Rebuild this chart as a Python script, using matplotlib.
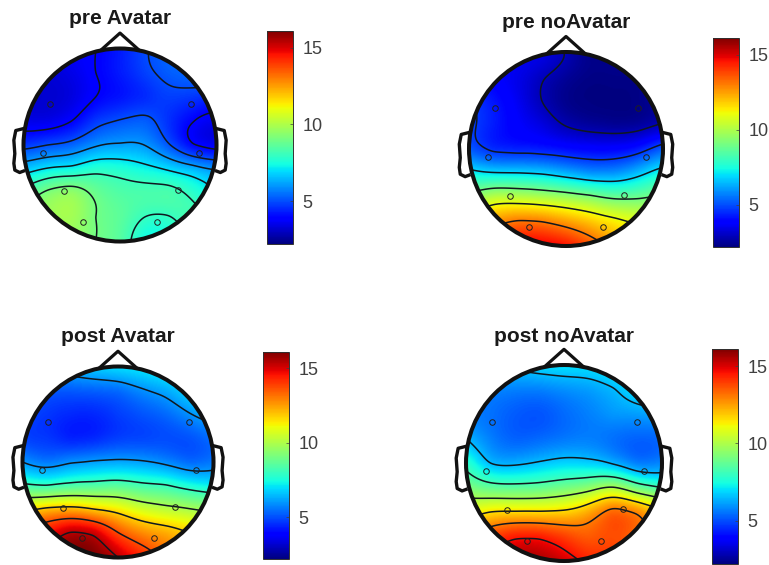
""" Four scalp maps (pre/post, Avatar/noAvatar) with their colorbars. """

import matplotlib.pyplot as plt
import numpy as np
from matplotlib.cm import ScalarMappable
from matplotlib.colors import Normalize
from matplotlib.patches import Circle

plt.rcParams['font.family'] = ['Liberation Sans', 'DejaVu Sans']

VMIN, VMAX = 2.2, 16.1
CBAR_TICKS = [5, 10, 15]

# values read on a 9x9 grid over the head, top row = front of the head
GRID_AXIS = [-1, -.75, -.5, -.25, 0, .25, .5, .75, 1]

pre_avatar = [
    [3.6, 3.6, 3.7, 3.9, 4.3, 4.9, 5.3, 5.5, 5.6],
    [3.3, 3.3, 3.5, 3.9, 4.3, 4.8, 5.2, 5.4, 5.5],
    [3.2, 3.2, 3.4, 3.9, 4.2, 4.5, 4.8, 4.7, 4.5],
    [3.5, 3.5, 3.9, 4.7, 5.05, 5.2, 4.6, 3.95, 3.6],
    [4.7, 5.0, 5.3, 5.9, 6.1, 6.0, 5.1, 4.0, 3.6],
    [6.6, 7.1, 7.3, 7.7, 7.6, 7.3, 6.9, 6.4, 5.9],
    [8.4, 9.2, 9.5, 8.8, 8.4, 8.3, 8.3, 7.8, 7.0],
    [9.5, 9.7, 9.8, 9.0, 8.6, 8.0, 7.95, 8.2, 7.6],
    [9.5, 9.6, 9.6, 9.0, 8.5, 7.4, 7.4, 8.0, 7.6],
]
pre_noavatar = [
    [3.6, 3.6, 3.5, 3.4, 2.85, 2.3, 2.3, 2.4, 2.4],
    [4.0, 3.8, 3.5, 3.0, 2.55, 2.3, 2.3, 2.35, 2.5],
    [4.7, 4.2, 3.6, 2.9, 2.4, 2.25, 2.25, 2.3, 2.6],
    [4.9, 4.3, 3.8, 3.4, 2.85, 2.6, 2.5, 2.6, 3.0],
    [5.2, 4.55, 4.4, 4.3, 4.1, 3.95, 3.95, 4.3, 5.2],
    [7.3, 7.0, 6.95, 6.8, 6.4, 6.0, 6.0, 6.6, 7.4],
    [9.5, 10.2, 10.2, 10.0, 9.7, 9.3, 8.85, 8.9, 9.1],
    [12.0, 12.6, 13.1, 13.0, 12.5, 11.9, 11.3, 10.8, 10.0],
    [14.0, 14.5, 15.0, 15.0, 14.6, 13.7, 12.6, 11.5, 10.5],
]
post_avatar = [
    [6.0, 6.2, 6.5, 6.8, 7.0, 7.2, 7.4, 7.4, 7.4],
    [5.4, 5.2, 5.2, 5.3, 5.45, 5.9, 6.3, 6.9, 7.1],
    [5.0, 4.7, 4.5, 4.5, 4.8, 5.1, 5.4, 5.95, 6.4],
    [4.9, 4.7, 4.4, 4.5, 4.8, 4.9, 5.0, 5.1, 5.5],
    [6.0, 5.6, 5.9, 6.1, 6.2, 6.1, 5.8, 5.4, 5.6],
    [8.2, 8.0, 8.3, 8.4, 8.5, 8.2, 8.0, 7.5, 7.2],
    [11.5, 12.0, 12.2, 11.8, 11.3, 10.6, 10.2, 9.9, 9.5],
    [14.0, 14.6, 15.4, 15.1, 13.7, 12.8, 12.3, 11.7, 10.8],
    [15.0, 15.6, 16.1, 16.1, 15.3, 14.3, 13.3, 12.3, 11.3],
]
post_noavatar = [
    [6.5, 6.6, 6.7, 6.9, 7.0, 7.0, 7.2, 7.3, 7.3],
    [6.0, 5.8, 5.7, 5.7, 5.9, 6.1, 6.45, 7.0, 7.2],
    [5.8, 5.5, 5.2, 5.1, 5.4, 5.7, 6.0, 6.1, 6.2],
    [6.5, 5.7, 5.3, 5.4, 5.6, 5.7, 5.5, 5.3, 5.4],
    [7.8, 6.5, 6.35, 6.6, 6.85, 6.8, 6.4, 5.7, 5.8],
    [9.2, 8.7, 8.6, 8.7, 9.0, 9.4, 9.95, 8.9, 8.2],
    [11.0, 11.5, 11.6, 11.6, 11.7, 12.3, 13.3, 12.8, 11.7],
    [13.0, 13.8, 14.4, 14.4, 13.9, 13.5, 13.7, 13.2, 12.2],
    [14.5, 15.0, 15.6, 15.6, 15.1, 14.4, 14.2, 13.5, 12.5],
]

titles = ['pre Avatar', 'pre noAvatar', 'post Avatar', 'post noAvatar']
maps = [pre_avatar, pre_noavatar, post_avatar, post_noavatar]
contour_levels = [
    [3.9, 5, 6, 7, 8, 9],
    [2.9, 4.7, 6.9, 9, 11, 13],
    [6, 7.9, 9.8, 11.7, 13.6, 15.3],
    [6.5, 8.2, 9.9, 11.5, 13, 14.6],
]

# electrodes on the unit head
elec_x = [-.73, .74, -.80, .82, -.58, .60, -.38, .38]
elec_y = [.42, .42, -.08, -.08, -.48, -.47, -.80, -.80]

# layout in pixels of the 769x565 picture
head_x = [120, 566, 118, 564]
head_y = [145, 149, 462, 463]
head_r = [96.5, 97, 95.5, 98]
title_y = [18, 23, 337, 336]
cbar_left = [267, 713, 263, 712]
cbar_top = [31, 38, 352, 349]
cbar_bottom = [244, 247, 559, 564]
CBAR_WIDTH = 26
WIDTH, HEIGHT = 769, 565


def green(dist):
    """ Biharmonic spline kernel, the one griddata 'v4' uses for scalp maps. """
    safe = np.where(dist > 0, dist, 1)
    return safe**2 * (np.log(safe) - 1) * (dist > 0)


def smooth_field(values, fine_axis):
    """ Spread the values read on the 9x9 grid over a fine grid. """
    xx, yy = np.meshgrid(GRID_AXIS, GRID_AXIS[::-1])
    px, py = xx.ravel(), yy.ravel()
    dist = np.hypot(px[:, None] - px[None, :], py[:, None] - py[None, :])
    weights = np.linalg.solve(green(dist), np.array(values).ravel())
    qx, qy = np.meshgrid(fine_axis, fine_axis)
    qdist = np.hypot(qx.ravel()[:, None] - px[None, :],
                     qy.ravel()[:, None] - py[None, :])
    return (green(qdist) @ weights).reshape(qx.shape)


def draw_head(ax, values, levels):
    """ Draw the map, its contour lines, the head outline and electrodes. """
    fine_axis = np.linspace(-1, 1, 201)
    field = smooth_field(values, fine_axis)

    outline = Circle((0, 0), 1, transform=ax.transData, fill=False, ec='none')
    ax.add_patch(outline)
    img = ax.imshow(field, origin='lower', extent=[-1, 1, -1, 1], cmap='jet',
                    vmin=VMIN, vmax=VMAX, interpolation='bilinear')
    img.set_clip_path(outline)
    lines = ax.contour(fine_axis, fine_axis, field, levels=levels,
                       colors='#101820', linewidths=1.1)
    lines.set_clip_path(outline)

    ax.plot(elec_x, elec_y, 'o', ms=4, mfc='none', mec='#202020', mew=.7)

    # head outline, nose and both ears
    ax.add_patch(Circle((0, 0), 1, fill=False, ec='#111111', lw=2.9, zorder=5))
    ax.plot([-.19, 0, .19], [.99, 1.16, .99], color='#111111', lw=2.3)
    ear_x = np.array([1.0, 1.08, 1.10, 1.09, 1.10, 1.09, 1.04, 1.0])
    ear_y = [.17, .15, .05, -.09, -.19, -.26, -.285, -.27]
    ax.plot(ear_x, ear_y, color='#111111', lw=2.4, solid_joinstyle='round')
    ax.plot(-ear_x, ear_y, color='#111111', lw=2.4, solid_joinstyle='round')

    ax.set_xlim(-1.25, 1.25)
    ax.set_ylim(-1.25, 1.25)
    ax.axis('off')


def draw_cbar(fig, left, top, bottom):
    """ Add one colorbar at the given pixel position. """
    cax = fig.add_axes([left / WIDTH, 1 - bottom / HEIGHT,
                        CBAR_WIDTH / WIDTH, (bottom - top) / HEIGHT])
    sm = ScalarMappable(Normalize(VMIN, VMAX), 'jet')
    cbar = fig.colorbar(sm, cax=cax, ticks=CBAR_TICKS)
    cbar.ax.tick_params(length=2, width=.5, pad=7, labelsize=13,
                        colors='#404040', direction='in')
    cbar.outline.set_edgecolor('#303030')
    cbar.outline.set_linewidth(.7)


fig = plt.figure(figsize=(WIDTH / 100, HEIGHT / 100), dpi=100)

for i in range(4):
    r = head_r[i]
    ax = fig.add_axes([(head_x[i] - 1.25 * r) / WIDTH,
                       1 - (head_y[i] + 1.25 * r) / HEIGHT,
                       2.5 * r / WIDTH, 2.5 * r / HEIGHT])
    draw_head(ax, maps[i], contour_levels[i])
    fig.text(head_x[i] / WIDTH, 1 - title_y[i] / HEIGHT, titles[i],
             ha='center', va='center', fontsize=15, fontweight='bold',
             color='#1a1a1a')
    draw_cbar(fig, cbar_left[i], cbar_top[i], cbar_bottom[i])

fig.savefig('out.png', dpi=100)
